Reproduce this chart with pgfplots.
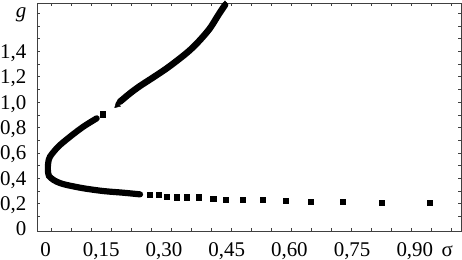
\documentclass[border=0pt]{standalone}
\usepackage{pgfplots}
\pgfplotsset{compat=1.18}
\usepackage{fontspec}
\setmainfont{Liberation Serif}
\begin{document}
\begin{tikzpicture}[font=\fontsize{21}{25}\selectfont]
\begin{axis}[
  scale only axis, width=424bp, height=228bp,
  xmin=-0.0038, xmax=1.0105, ymin=-0.0158, ymax=1.781,
  axis line style={line width=0.6bp, black!75},
  xtick={0.0165,0.15,0.30,0.45,0.60,0.75,0.90},
  xticklabels={0,{0,15},{0,30},{0,45},{0,60},{0,75},{0,90}},
  ytick={0,0.2,0.4,0.6,0.8,1.0,1.2,1.4},
  yticklabels={0,{0,2},{0,4},{0,6},{0,8},{1,0},{1,2},{1,4}},
  minor xtick={0.0313,0.0792,0.1270,0.1749,0.2227,0.2706,0.3184,0.3663,0.4141,0.4620,0.5098,0.5577,0.6055,0.6534,0.7012,0.7491,0.7969,0.8448,0.8926,0.9405,0.9883},
  minor ytick={0.1,0.2,0.3,0.4,0.5,0.6,0.7,0.8,0.9,1.0,1.1,1.2,1.3,1.4,1.5,1.6,1.7},
  major tick length=0pt, minor tick length=3bp,
  tick style={black!75, line width=0.5bp},
  tick align=inside, xtick pos=both, ytick pos=both,
  xticklabel style={anchor=north, inner sep=0pt, yshift=-11.5bp, font=\fontsize{21}{25}\selectfont},
  yticklabel style={anchor=base east, inner sep=0pt, xshift=-10.5bp, yshift=-7bp, font=\fontsize{21}{25}\selectfont},
  clip=false,
]
% upper branch (dense band)
\addplot[black, line width=6.5bp, smooth, line cap=round] coordinates {
  (0.4459,1.765) (0.4299,1.686) (0.4100,1.582) (0.3861,1.489) (0.3622,1.410)
  (0.3383,1.345) (0.3065,1.266) (0.2744,1.195) (0.2426,1.127) (0.2187,1.069)
  (0.1947,1.003)
};
\addplot[black, only marks, mark=diamond*, mark size=4.2bp] coordinates {(0.4459,1.765)};
\addplot[black, only marks, mark=triangle*, mark size=3.5bp, mark options={rotate=134}] coordinates {(0.1880,0.975)};
% lower branch (dense band)
\addplot[black, line width=6.2bp, smooth, line cap=round] coordinates {
  (0.1390,0.872) (0.1069,0.806) (0.0751,0.727) (0.0471,0.649) (0.0273,0.570)
  (0.0230,0.520) (0.0222,0.465) (0.0249,0.418) (0.0370,0.384) (0.0512,0.362)
  (0.0672,0.347) (0.1069,0.321) (0.1548,0.299) (0.2026,0.286) (0.2426,0.273)
};
% separate square markers
\addplot[black, only marks, mark=square*, mark size=2.6bp] coordinates {
  (0.1533,0.904)
  (0.2665,0.268) (0.2864,0.268) (0.3065,0.255) (0.3304,0.250) (0.3543,0.250)
  (0.3821,0.250) (0.4179,0.236) (0.4483,0.234) (0.4883,0.234) (0.5361,0.234)
  (0.5902,0.221) (0.6510,0.215) (0.7275,0.215) (0.8199,0.207) (0.9364,0.207)
};
\coordinate (bl) at (rel axis cs:0,0);
\coordinate (tr) at (rel axis cs:1,1);
\node[font=\fontsize{21}{25}\selectfont\itshape, anchor=north, inner sep=0pt] at (rel axis cs:0,1) [xshift=-16bp, yshift=-4bp] {g};
\node[font=\fontsize{21}{25}\selectfont, anchor=base, inner sep=0pt] at (rel axis cs:1,0) [xshift=-13.7bp, yshift=-25.5bp] {σ};
\end{axis}
\pgfresetboundingbox
\useasboundingbox ([shift={(-37bp,-29bp)}]bl) rectangle ([shift={(1bp,3bp)}]tr);
\end{tikzpicture}
\end{document}
